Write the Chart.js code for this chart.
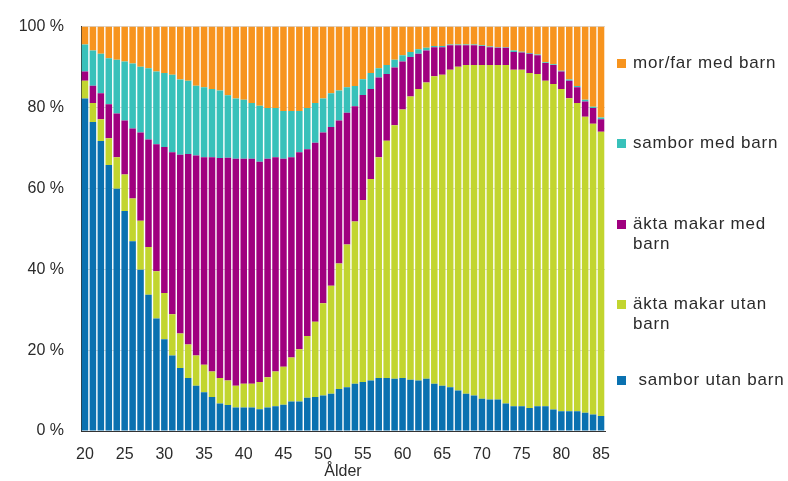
<!DOCTYPE html>
<html>
<head>
<meta charset="utf-8">
<script src="https://cdn.jsdelivr.net/npm/chart.js@4"></script>
<style>
  body { margin: 0; background: #fff; }
  #wrap { position: relative; width: 788px; height: 481px; }
  .leg { position: absolute; left: 617px; font: 17px "Liberation Sans", Arial, sans-serif; color: #2b2b2b; line-height: 20px; letter-spacing: 0.8px; }
  .leg i { position: absolute; left: 0; top: 6px; width: 9px; height: 9px; }
  .leg span { display: block; margin-left: 16px; }
</style>
</head>
<body>
<div id="wrap">
  <canvas id="chart-1" width="788" height="481"></canvas>
  <div id="legend"></div>
</div>
<script>
const ages = [];
for (let a = 20; a <= 85; a++) ages.push(a);

// percent of population per age group
const samborUtanBarn = [82.2, 76.4, 71.7, 65.8, 59.9, 54.4, 46.9, 39.9, 33.7, 27.8,
    22.7, 18.7, 15.6, 13.1, 11.2, 9.6, 8.4, 6.8, 6.4, 5.8,
    5.8, 5.8, 5.4, 5.8, 6.1, 6.5, 7.3, 7.3, 8.2, 8.4,
    8.8, 9.2, 10.4, 10.8, 11.7, 12.1, 12.5, 13.1, 13.1, 12.9,
    13.1, 12.7, 12.5, 12.9, 11.7, 11.2, 10.8, 10.0, 9.2, 8.8,
    8.0, 7.8, 7.8, 6.8, 6.1, 6.1, 5.7, 6.1, 6.1, 5.3,
    4.9, 4.9, 4.9, 4.5, 4.1, 3.7];
const aktaUtanBarn = [4.4, 4.7, 5.4, 6.6, 7.8, 9.0, 10.6, 12.1, 11.8, 11.7,
    11.4, 10.2, 8.5, 8.3, 7.5, 6.8, 6.3, 6.3, 6.1, 5.4,
    5.9, 5.9, 6.7, 7.5, 8.6, 9.4, 10.9, 12.9, 15.3, 18.6,
    22.8, 26.7, 31.0, 35.3, 40.1, 45.0, 49.8, 54.6, 58.7, 62.7,
    66.4, 70.0, 72.1, 73.3, 76.0, 76.9, 78.5, 80.1, 81.3, 81.7,
    82.5, 82.7, 82.7, 83.7, 83.2, 83.2, 82.8, 82.2, 80.5, 80.5,
    79.7, 77.4, 76.2, 73.2, 71.9, 70.3];
const aktaMedBarn = [2.3, 4.3, 6.4, 8.4, 10.8, 13.4, 17.3, 21.8, 26.6, 31.4,
    36.1, 40.0, 44.2, 47.1, 49.4, 51.3, 53.0, 54.4, 55.1, 56.1,
    55.6, 55.6, 54.5, 54.0, 53.0, 51.4, 49.5, 48.7, 46.2, 44.3,
    42.2, 39.3, 35.4, 32.6, 28.5, 26.0, 22.3, 19.7, 16.5, 14.3,
    11.9, 9.8, 8.7, 7.9, 7.2, 6.8, 6.1, 5.3, 4.9, 4.9,
    4.7, 4.4, 4.3, 4.3, 4.4, 4.3, 4.8, 4.6, 4.4, 4.7,
    4.3, 4.3, 3.9, 3.8, 3.9, 3.1];
const samborMedBarn = [6.7, 8.7, 9.8, 11.4, 13.3, 14.6, 16.1, 16.3, 17.6, 18.0,
    18.3, 19.2, 18.6, 18.1, 17.3, 17.3, 16.9, 16.7, 15.4, 14.9,
    14.6, 13.8, 13.8, 12.6, 12.2, 11.8, 11.4, 10.2, 10.2, 9.8,
    8.4, 8.3, 7.4, 6.3, 5.0, 3.9, 3.9, 2.3, 2.2, 1.9,
    1.5, 1.2, 1.1, 0.7, 0.3, 0.3, 0.2, 0.2, 0.2, 0.2,
    0.2, 0.2, 0.1, 0.1, 0.4, 0.2, 0.2, 0.2, 0.2, 0.2,
    0.2, 0.3, 0.3, 0.4, 0.3, 0.4];
const morFarMedBarn = [4.4, 5.9, 6.7, 7.8, 8.2, 8.6, 9.1, 9.9, 10.3, 11.1,
    11.5, 11.9, 13.1, 13.4, 14.6, 15.0, 15.4, 15.8, 17.0, 17.8,
    18.1, 18.9, 19.6, 20.1, 20.1, 20.9, 20.9, 20.9, 20.1, 18.9,
    17.8, 16.5, 15.8, 15.0, 14.7, 13.0, 11.5, 10.3, 9.5, 8.2,
    7.1, 6.3, 5.6, 5.2, 4.8, 4.8, 4.4, 4.4, 4.4, 4.4,
    4.6, 4.9, 5.1, 5.1, 5.9, 6.2, 6.5, 6.9, 8.8, 9.3,
    10.9, 13.1, 14.7, 18.1, 19.8, 22.5];

const seriesNames = ['sambor utan barn', 'äkta makar utan barn', 'äkta makar med barn', 'sambor med barn', 'mor/far med barn'];
const seriesColors = ['#0a71b0', '#c2d52f', '#a0007f', '#38c1ba', '#f7941e'];
const seriesValues = [samborUtanBarn, aktaUtanBarn, aktaMedBarn, samborMedBarn, morFarMedBarn];

const ctx = document.getElementById('chart-1');
const font = { family: '"Liberation Sans", Arial, sans-serif', size: 16 };

new Chart(ctx, {
    type: 'bar',
    data: {
        labels: ages,
        datasets: seriesNames.map((name, i) => ({
            label: name,
            data: seriesValues[i],
            backgroundColor: seriesColors[i],
            borderWidth: 0,
            barPercentage: 0.82,
            categoryPercentage: 1.0
        }))
    },
    options: {
        responsive: false,
        animation: false,
        layout: { padding: { top: 22, right: 183, bottom: 0, left: 0 } },
        plugins: {
            legend: { display: false },
            tooltip: { enabled: false }
        },
        scales: {
            x: {
                stacked: true,
                grid: { display: false, drawTicks: false },
                border: { color: '#333', width: 1 },
                ticks: {
                    autoSkip: false,
                    maxRotation: 0,
                    color: '#2b2b2b',
                    font: font,
                    padding: 14,
                    callback: function (v, i) {
                        const a = ages[i];
                        return a % 5 === 0 ? String(a) : '';
                    }
                },
                title: { display: true, text: 'Ålder', color: '#2b2b2b', font: font, padding: { top: 3, bottom: 0 } },
                afterFit: s => { s.height = 50; }
            },
            y: {
                stacked: true,
                min: 0,
                max: 100,
                grid: { color: '#d9d9d9', drawTicks: false },
                border: { color: '#333', width: 1 },
                ticks: {
                    stepSize: 20,
                    color: '#2b2b2b',
                    font: font,
                    padding: 17,
                    callback: v => v + ' %'
                },
                afterFit: s => { s.width = 81; }
            }
        }
    }
});

// legend at the right, in reverse series order
const legendLines = [
    { i: 4, lines: ['mor/far med barn'], top: 53 },
    { i: 3, lines: ['sambor med barn'], top: 133 },
    { i: 2, lines: ['äkta makar med', 'barn'], top: 214 },
    { i: 1, lines: ['äkta makar utan', 'barn'], top: 294 },
    { i: 0, lines: ['\u00a0sambor utan barn'], top: 370 }
];
const legend = document.getElementById('legend');
legendLines.forEach(item => {
    const d = document.createElement('div');
    d.className = 'leg';
    d.style.top = item.top + 'px';
    const sw = document.createElement('i');
    sw.style.background = seriesColors[item.i];
    d.appendChild(sw);
    item.lines.forEach(t => {
        const s = document.createElement('span');
        s.textContent = t;
        d.appendChild(s);
    });
    legend.appendChild(d);
});
</script>
</body>
</html>
